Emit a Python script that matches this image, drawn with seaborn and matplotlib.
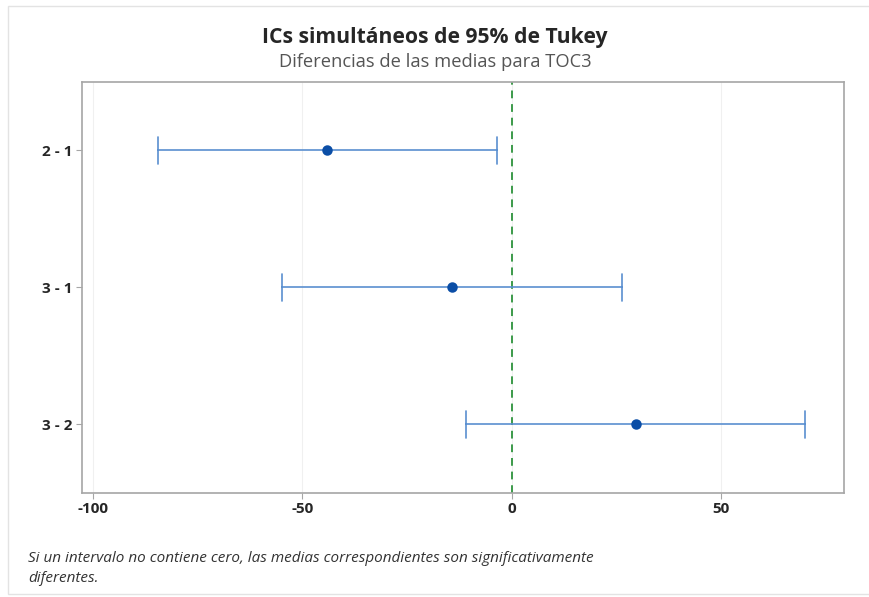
import numpy as np
import pandas as pd
import matplotlib
matplotlib.use("Agg")
import matplotlib.pyplot as plt
import seaborn as sns
from matplotlib.patches import Rectangle

# Data (Tukey simultaneous 95% CIs, differences of means for TOC3)
comparisons = ["2 - 1", "3 - 1", "3 - 2"]
lower = [-84.4, -54.9, -10.8]
center = [-44.2, -14.3, 29.8]
upper = [-3.5, 26.3, 70.2]
xticks = [-100, -50, 0, 50]

sns.set_theme(style="white")
plt.rcParams['font.family'] = ['Open Sans', 'DejaVu Sans']

rows = []
for c, lo, m, hi in zip(comparisons, lower, center, upper):
    for v in (lo, m, hi):
        rows.append({"comp": c, "value": v})
df = pd.DataFrame(rows)

fig = plt.figure(figsize=(8.7, 5.97), dpi=100)
ax = fig.add_axes([0.0943, 0.1747, 0.9701 - 0.0943, 0.8626 - 0.1747])

ax.grid(True, color="#f0f0f0", linewidth=0.8)
ax.set_axisbelow(True)

ax.axvline(0, color="#3c9a4a", linestyle=(0, (4, 3)), linewidth=1.4, zorder=1)

sns.pointplot(data=df, x="value", y="comp", order=comparisons, orient="h",
              estimator="median", errorbar=("pi", 100), capsize=0.2,
              linestyle="none", marker="o", markersize=5.5,
              color="#5a8fd0", err_kws={"linewidth": 1.2}, ax=ax, zorder=3)

for ln in ax.lines:
    if ln.get_marker() == "o":
        ln.set_markerfacecolor("#0b4ea6")
        ln.set_markeredgecolor("#0b4ea6")
        ln.set_zorder(5)

ax.set_xlim(-102.6, 79.4)
ax.set_ylim(2.5, -0.5)
ax.set_xticks(xticks)
ax.set_xticklabels([str(t) for t in xticks])
ax.set_xlabel("")
ax.set_ylabel("")

for s in ax.spines.values():
    s.set_color("#a6a6a6")
    s.set_linewidth(1.2)

ax.tick_params(axis="both", which="both", length=4, width=0.8, color="#a6a6a6",
               labelsize=11, labelcolor="#262626", pad=3, direction="out",
               bottom=True, left=True)
for lab in ax.get_xticklabels() + ax.get_yticklabels():
    lab.set_fontweight("bold")

fig.text(0.5, 1 - 37 / 597, "ICs simultáneos de 95% de Tukey", ha="center", va="center",
         fontsize=15.2, fontweight="bold", color="#262626")
fig.text(0.5, 1 - 62 / 597, "Diferencias de las medias para TOC3", ha="center", va="center",
         fontsize=13.2, color="#555555")

fig.text(28 / 870, 1 - 559 / 597,
         "Si un intervalo no contiene cero, las medias correspondientes son significativamente",
         ha="left", va="center", fontsize=11, style="italic", color="#333333")
fig.text(28 / 870, 1 - 578 / 597, "diferentes.",
         ha="left", va="center", fontsize=11, style="italic", color="#333333")

# outer light border
fig.patches.append(Rectangle((8 / 870, 3 / 597), 1 - 8 / 870, 1 - 9 / 597,
                             transform=fig.transFigure, fill=False,
                             edgecolor="#e3e3e3", linewidth=1.0))

fig.savefig("out.png", dpi=100)
